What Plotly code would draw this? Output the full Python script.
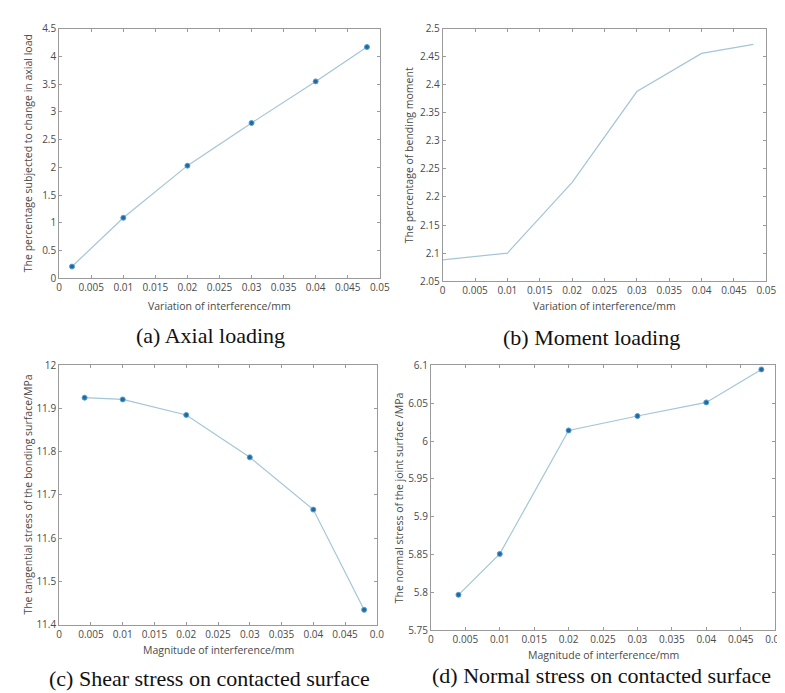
import plotly.graph_objects as go

W, H = 785, 693

# ---- data ----
xa = [0.002, 0.01, 0.02, 0.03, 0.04, 0.048]
ya = [0.21, 1.09, 2.03, 2.80, 3.55, 4.17]

xb = [0.0, 0.01, 0.02, 0.03, 0.04, 0.048]
yb = [2.088, 2.100, 2.226, 2.388, 2.456, 2.472]

xc = [0.004, 0.01, 0.02, 0.03, 0.04, 0.048]
yc = [11.925, 11.921, 11.885, 11.787, 11.666, 11.434]

xd = [0.004, 0.01, 0.02, 0.03, 0.04, 0.048]
yd = [5.797, 5.851, 6.014, 6.033, 6.051, 6.0945]

x_ticks = [0, 0.005, 0.01, 0.015, 0.02, 0.025, 0.03, 0.035, 0.04, 0.045, 0.05]
x_labels = ["0", "0.005", "0.01", "0.015", "0.02", "0.025", "0.03", "0.035", "0.04", "0.045", "0.05"]
x_labels_c = x_labels[:-1] + ["0.0"]

ya_ticks = [0, 0.5, 1, 1.5, 2, 2.5, 3, 3.5, 4, 4.5]
ya_labels = ["0", "0.5", "1", "1.5", "2", "2.5", "3", "3.5", "4", "4.5"]
yb_ticks = [2.05, 2.1, 2.15, 2.2, 2.25, 2.3, 2.35, 2.4, 2.45, 2.5]
yb_labels = ["2.05", "2.1", "2.15", "2.2", "2.25", "2.3", "2.35", "2.4", "2.45", "2.5"]
yc_ticks = [11.4, 11.5, 11.6, 11.7, 11.8, 11.9, 12.0]
yc_labels = ["11.4", "11.5", "11.6", "11.7", "11.8", "11.9", "12"]
yd_ticks = [5.75, 5.8, 5.85, 5.9, 5.95, 6.0, 6.05, 6.1]
yd_labels = ["5.75", "5.8", "5.85", "5.9", "5.95", "6", "6.05", "6.1"]

captions = ["(a) Axial loading", "(b) Moment loading",
            "(c) Shear stress on contacted surface", "(d) Normal stress on contacted surface"]
xtitles = ["Variation of interference/mm", "Variation of interference/mm",
           "Magnitude of interference/mm", "Magnitude of interference/mm"]
ytitles = ["The percentage subjected to change in axial load",
           "The percentage of bending moment",
           "The tangential stress of the bonding surface/MPa",
           "The normal stress of the joint surface /MPa"]

# ---- layout helpers (pixel boxes) ----
def px(x):
    return x / W

def py(y):
    return 1 - y / H

boxes = [  # left, right, top, bottom in px
    (49, 375, 13, 268),
    (439, 768, 13, 271),
    (49, 372, 357, 622),
    (427, 777, 357, 628),
]

LINE = "#a3c6d6"
MARK = "#1f6aa6"
AXC = "#9a9a9a"
TXT = "#4a4a4a"
FONT = "Open Sans"

fig = go.Figure()

series = [(xa, ya, True), (xb, yb, False), (xc, yc, True), (xd, yd, True)]
for i, (xs, ys, mk) in enumerate(series):
    n = "" if i == 0 else str(i + 1)
    fig.add_trace(go.Scatter(
        x=xs, y=ys, mode="lines+markers" if mk else "lines",
        line=dict(color=LINE, width=1.2),
        marker=dict(symbol="circle", size=5, color=MARK,
                    line=dict(color="#5aa0cc", width=1)),
        xaxis="x" + n, yaxis="y" + n, showlegend=False,
    ))

yticks = [(ya_ticks, ya_labels, [0, 4.5]), (yb_ticks, yb_labels, [2.05, 2.5]),
          (yc_ticks, yc_labels, [11.4, 12.0]), (yd_ticks, yd_labels, [5.75, 6.1])]
xlabs = [x_labels, x_labels, x_labels_c, x_labels]

layout = dict(
    width=W, height=H, margin=dict(l=0, r=0, t=0, b=0),
    paper_bgcolor="white", plot_bgcolor="white",
    font=dict(family=FONT, size=10, color=TXT),
    annotations=[], showlegend=False,
)

for i, (l, r, t, b) in enumerate(boxes):
    n = "" if i == 0 else str(i + 1)
    common = dict(showline=True, linecolor=AXC, linewidth=1, mirror="ticks",
                  ticks="inside", ticklen=3, tickcolor=AXC, showgrid=False,
                  zeroline=False, tickfont=dict(family=FONT, size=10, color=TXT))
    layout["xaxis" + n] = dict(domain=[px(l), px(r)], anchor="y" + n,
                               range=[0, 0.05], tickmode="array",
                               tickvals=x_ticks, ticktext=xlabs[i], **common)
    tv, tl, rg = yticks[i]
    layout["yaxis" + n] = dict(domain=[py(b), py(t)], anchor="x" + n,
                               range=rg, tickmode="array",
                               tickvals=tv, ticktext=tl, **common)

ann = layout["annotations"]
xt_y = [296, 296, 648, 653]
yt_x = [18, 405, 17, 394]
cap_pos = [(203, 327), (590, 329), (202, 677), (600, 674)]
for i, (l, r, t, b) in enumerate(boxes):
    ann.append(dict(text=xtitles[i], x=px((l + r) / 2), y=py(xt_y[i]),
                    xref="paper", yref="paper", showarrow=False,
                    xanchor="center", yanchor="middle",
                    font=dict(family=FONT, size=10.5, color=TXT)))
    ann.append(dict(text=ytitles[i], x=px(yt_x[i]), y=py((t + b) / 2),
                    xref="paper", yref="paper", showarrow=False, textangle=-90,
                    xanchor="center", yanchor="middle",
                    font=dict(family=FONT, size=10.5, color=TXT)))
    cx, cy = cap_pos[i]
    ann.append(dict(text=captions[i], x=px(cx), y=py(cy),
                    xref="paper", yref="paper", showarrow=False,
                    xanchor="center", yanchor="middle",
                    font=dict(family="Liberation Serif", size=22, color="#111111")))

fig.update_layout(**layout)
fig.write_html("out.html")
